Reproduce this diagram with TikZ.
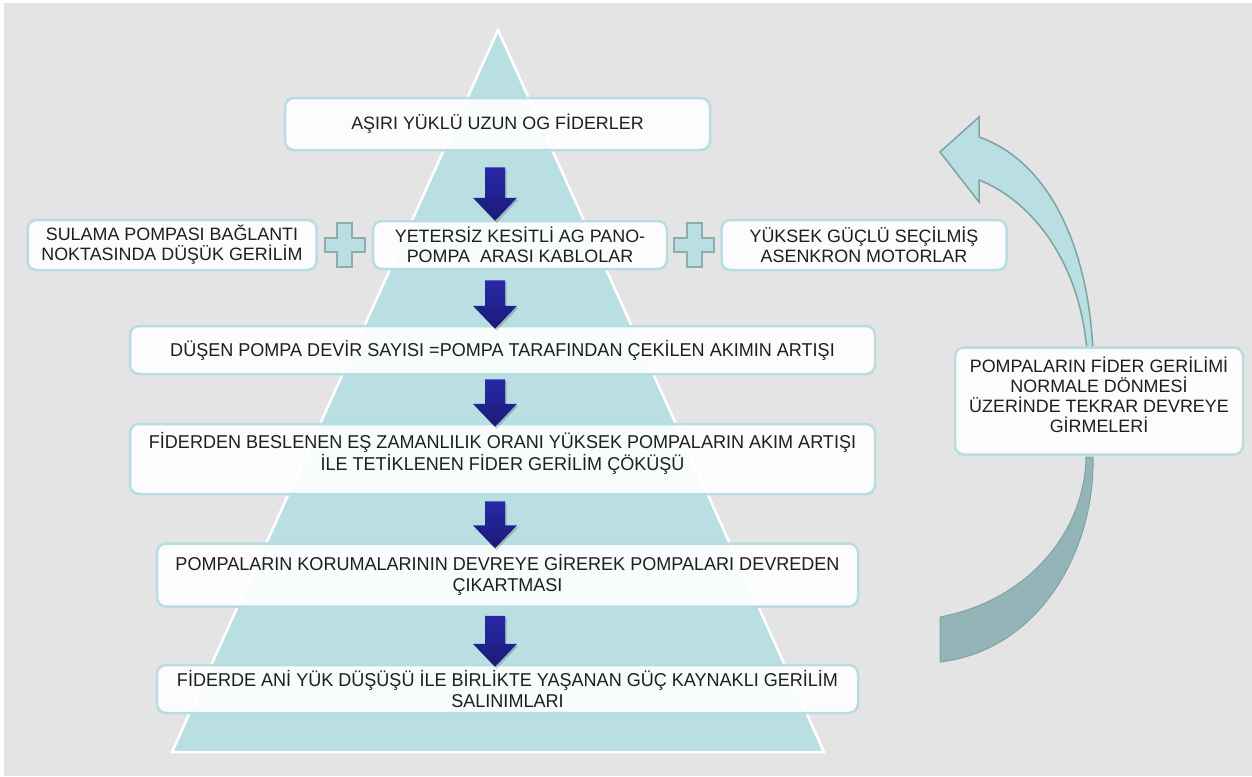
\documentclass[tikz,border=0pt]{standalone}
\usepackage{fontspec}
\setmainfont{Liberation Sans}
\newfontfamily\condfont[FakeStretch=0.97]{Liberation Sans}
\usetikzlibrary{calc}
\definecolor{bggray}{HTML}{E4E4E4}
\definecolor{tri}{HTML}{BADFE3}
\definecolor{boxborder}{HTML}{B7DDE2}
\definecolor{arrtop}{HTML}{2828A8}
\definecolor{arrbot}{HTML}{1A1A78}
\definecolor{plusline}{HTML}{8EABAD}
\definecolor{curvedark}{HTML}{94B5B7}
\definecolor{curveline}{HTML}{80A2A4}
\definecolor{txt}{HTML}{1E1E1E}
\tikzset{
  box/.style={draw=boxborder, line width=2.5pt, fill=white, fill opacity=0.92, text opacity=1,
    rounded corners=9pt, align=center, text=txt, inner sep=0pt,
    font=\fontsize{17.9}{20}\selectfont},
  condbox/.style={box, font=\condfont\fontsize{18.6}{21.5}\selectfont},
  arrowfill/.style={top color=arrtop, bottom color=arrbot},
  arrowshadow/.style={fill=black, fill opacity=0.18},
  plusshape/.style={fill=tri, draw=plusline, line width=2pt},
}
\newcommand{\blockarr}[2]{%
  \path[arrowshadow] let \p1=#1, \p2=#2 in
    (\x1-10pt+1.5pt,\y1-2pt) -- (\x1+10pt+1.5pt,\y1-2pt) -- (\x1+10pt+1.5pt,\y2+23pt-2pt) -- (\x1+22pt+1.5pt,\y2+23pt-2pt)
    -- (\x1+1.5pt,\y2-2pt) -- (\x1-22pt+1.5pt,\y2+23pt-2pt) -- (\x1-10pt+1.5pt,\y2+23pt-2pt) -- cycle;
  \path[arrowfill] let \p1=#1, \p2=#2 in
    (\x1-10pt,\y1) -- (\x1+10pt,\y1) -- (\x1+10pt,\y2+23pt) -- (\x1+22pt,\y2+23pt)
    -- (\x1,\y2) -- (\x1-22pt,\y2+23pt) -- (\x1-10pt,\y2+23pt) -- cycle;}
\newcommand{\plussign}[1]{%
  \path[plusshape] let \p1=#1 in
    (\x1-7.5pt,\y1+22pt) -- (\x1+7.5pt,\y1+22pt) -- (\x1+7.5pt,\y1+7pt) -- (\x1+20pt,\y1+7pt)
    -- (\x1+20pt,\y1-7pt) -- (\x1+7.5pt,\y1-7pt) -- (\x1+7.5pt,\y1-22pt) -- (\x1-7.5pt,\y1-22pt)
    -- (\x1-7.5pt,\y1-7pt) -- (\x1-20pt,\y1-7pt) -- (\x1-20pt,\y1+7pt) -- (\x1-7.5pt,\y1+7pt) -- cycle;}
\begin{document}
\begin{tikzpicture}[x=1pt,y=-1pt]
\useasboundingbox (0,0) rectangle (1252,776);
\fill[white] (0,0) rectangle (1252,776);
\fill[bggray] (4,3) rectangle (1252,776);
% pyramid
\fill[tri, draw=white, line width=2.5pt, line join=miter] (498,30) -- (824,752) -- (172,752) -- cycle;
% curved return arrow
\fill[curvedark, draw=curveline, line width=1pt]
  (940,617) .. controls (1030,600) and (1085,530) .. (1086,457) -- (1093,457)
  .. controls (1095,550) and (1040,650) .. (940,662) -- cycle;
\fill[tri, draw=curveline, line width=1.5pt, line join=miter]
  (1087,352) .. controls (1080,260) and (1030,200) .. (979,180) -- (979,202) -- (940,152)
  -- (979,117) -- (979,137) .. controls (1045,160) and (1088,240) .. (1093,352) -- cycle;
% boxes
\node[box, minimum width=425pt, minimum height=52pt] (b1) at (497.5,124) {AŞIRI YÜKLÜ UZUN OG FİDERLER};
\node[box, minimum width=289pt, minimum height=50pt] (left) at (172,245) {SULAMA POMPASI BAĞLANTI\\NOKTASINDA DÜŞÜK GERİLİM};
\node[box, minimum width=294pt, minimum height=48pt] (mid) at (520,245) {YETERSİZ KESİTLİ AG PANO-\\POMPA~ ARASI KABLOLAR};
\node[box, minimum width=285pt, minimum height=50pt] (right) at (864,245) {YÜKSEK GÜÇLÜ SEÇİLMİŞ\\ASENKRON MOTORLAR};
\node[condbox, minimum width=745pt, minimum height=48pt] (b3) at (502.5,350) {DÜŞEN POMPA DEVİR SAYISI =POMPA TARAFINDAN ÇEKİLEN AKIMIN ARTIŞI};
\node[condbox, minimum width=745pt, minimum height=70pt] (b4) at (502.5,459) {FİDERDEN BESLENEN EŞ ZAMANLILIK ORANI YÜKSEK POMPALARIN AKIM ARTIŞI\\İLE TETİKLENEN FİDER GERİLİM ÇÖKÜŞÜ\\[-6pt]\mbox{}};
\node[condbox, minimum width=701pt, minimum height=63pt] (b5) at (507.5,575) {POMPALARIN KORUMALARININ DEVREYE GİREREK POMPALARI DEVREDEN\\ÇIKARTMASI};
\node[condbox, minimum width=701pt, minimum height=48pt] (b6) at (507.5,689) {FİDERDE ANİ YÜK DÜŞÜŞÜ İLE BİRLİKTE YAŞANAN GÜÇ KAYNAKLI GERİLİM\\SALINIMLARI};
\node[box, minimum width=288pt, minimum height=107pt] (rb) at (1099,401) {POMPALARIN FİDER GERİLİMİ\\NORMALE DÖNMESİ\\ÜZERİNDE TEKRAR DEVREYE\\GİRMELERİ\\[-8pt]\mbox{}};
% plus signs
\plussign{($(left.east)!0.5!(mid.west)$)}
\plussign{($(mid.east)!0.5!(right.west)$)}
% block arrows
\coordinate (ax) at (495,0);
\blockarr{($(b1.south -| ax)+(0,16)$)}{($(mid.north -| ax)+(0,1)$)}
\blockarr{($(mid.south -| ax)+(0,10)$)}{($(b3.north -| ax)+(0,4)$)}
\blockarr{($(b3.south -| ax)+(0,4)$)}{($(b4.north -| ax)+(0,4)$)}
\blockarr{($(b4.south -| ax)+(0,6)$)}{($(b5.north -| ax)+(0,6)$)}
\blockarr{($(b5.south -| ax)+(0,8)$)}{($(b6.north -| ax)+(0,3)$)}
\end{tikzpicture}
\end{document}
